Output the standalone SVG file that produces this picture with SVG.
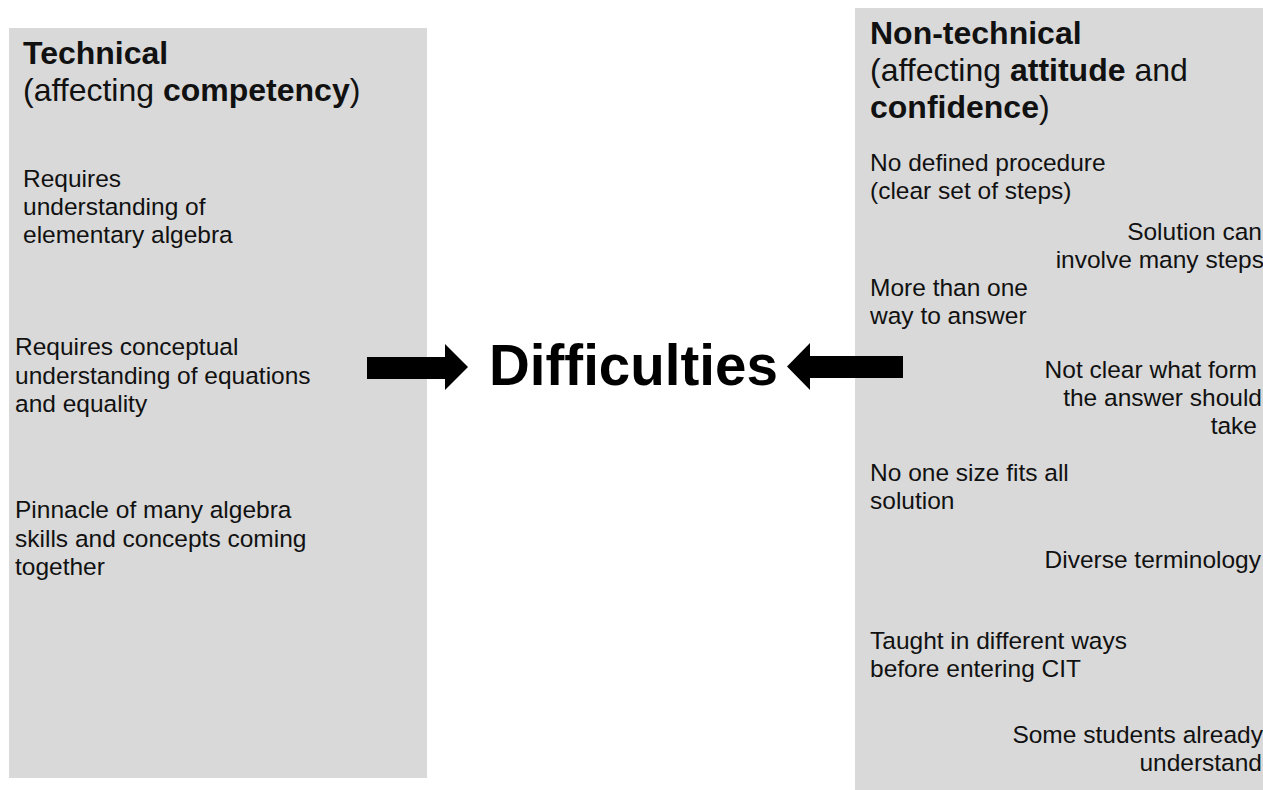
<svg xmlns="http://www.w3.org/2000/svg" width="1263" height="790" viewBox="0 0 1263 790">
  <style>
    .panel { fill: #d9d9d9; }
    .head { font-family: "Liberation Sans", Arial, sans-serif; font-size: 32px; fill: #111; }
    .body { font-family: "Liberation Sans", Arial, sans-serif; font-size: 24.5px; fill: #111; }
    .b { font-weight: bold; }
    .end { text-anchor: end; }
    .center { font-family: "Liberation Sans", Arial, sans-serif; font-size: 56.5px; font-weight: bold; fill: #000; }
    .arrow { fill: #000; }
  </style>
  <rect width="1263" height="790" fill="#ffffff"/>

  <!-- Technical factors -->
  <g id="technical">
    <rect class="panel" x="9" y="28" width="418" height="750"/>
    <text class="head b" x="23" y="64">Technical</text>
    <text class="head" x="23" y="101">(affecting <tspan class="b">competency</tspan>)</text>
    <text class="body" x="23" y="187">Requires</text>
    <text class="body" x="23" y="215">understanding of</text>
    <text class="body" x="23" y="243">elementary algebra</text>
    <text class="body" x="15" y="355">Requires conceptual</text>
    <text class="body" x="15" y="383.5">understanding of equations</text>
    <text class="body" x="15" y="412">and equality</text>
    <text class="body" x="15" y="518">Pinnacle of many algebra</text>
    <text class="body" x="15" y="546.5">skills and concepts coming</text>
    <text class="body" x="15" y="575">together</text>
  </g>

  <!-- Non-technical factors -->
  <g id="non-technical">
    <rect class="panel" x="855" y="8" width="408" height="782"/>
    <text class="head b" x="870" y="44">Non-technical</text>
    <text class="head" x="870" y="81">(affecting <tspan class="b">attitude</tspan> and</text>
    <text class="head b" x="870" y="118">confidence<tspan font-weight="normal">)</tspan></text>
    <text class="body" x="870" y="171">No defined procedure</text>
    <text class="body" x="870" y="199">(clear set of steps)</text>
    <text class="body end" x="1262" y="240">Solution can</text>
    <text class="body end" x="1264" y="268">involve many steps</text>
    <text class="body" x="870" y="296">More than one</text>
    <text class="body" x="870" y="324">way to answer</text>
    <text class="body end" x="1257" y="378">Not clear what form</text>
    <text class="body end" x="1262" y="406">the answer should</text>
    <text class="body end" x="1257" y="434">take</text>
    <text class="body" x="870" y="481">No one size fits all</text>
    <text class="body" x="870" y="509">solution</text>
    <text class="body end" x="1261" y="568">Diverse terminology</text>
    <text class="body" x="870" y="649">Taught in different ways</text>
    <text class="body" x="870" y="677">before entering CIT</text>
    <text class="body end" x="1263" y="743">Some students already</text>
    <text class="body end" x="1262" y="771">understand</text>
  </g>

  <!-- Central outcome -->
  <g id="difficulties">
    <text class="center" x="489" y="385">Difficulties</text>
  </g>

  <!-- Connectors: block arrows pointing into the centre -->
  <g id="connectors">
    <polygon class="arrow" points="367,357 445,357 445,344 468,367 445,390 445,379 367,379"/>
    <polygon class="arrow" points="903,356 810,356 810,343 787,366.5 810,390 810,378 903,378"/>
  </g>
</svg>
